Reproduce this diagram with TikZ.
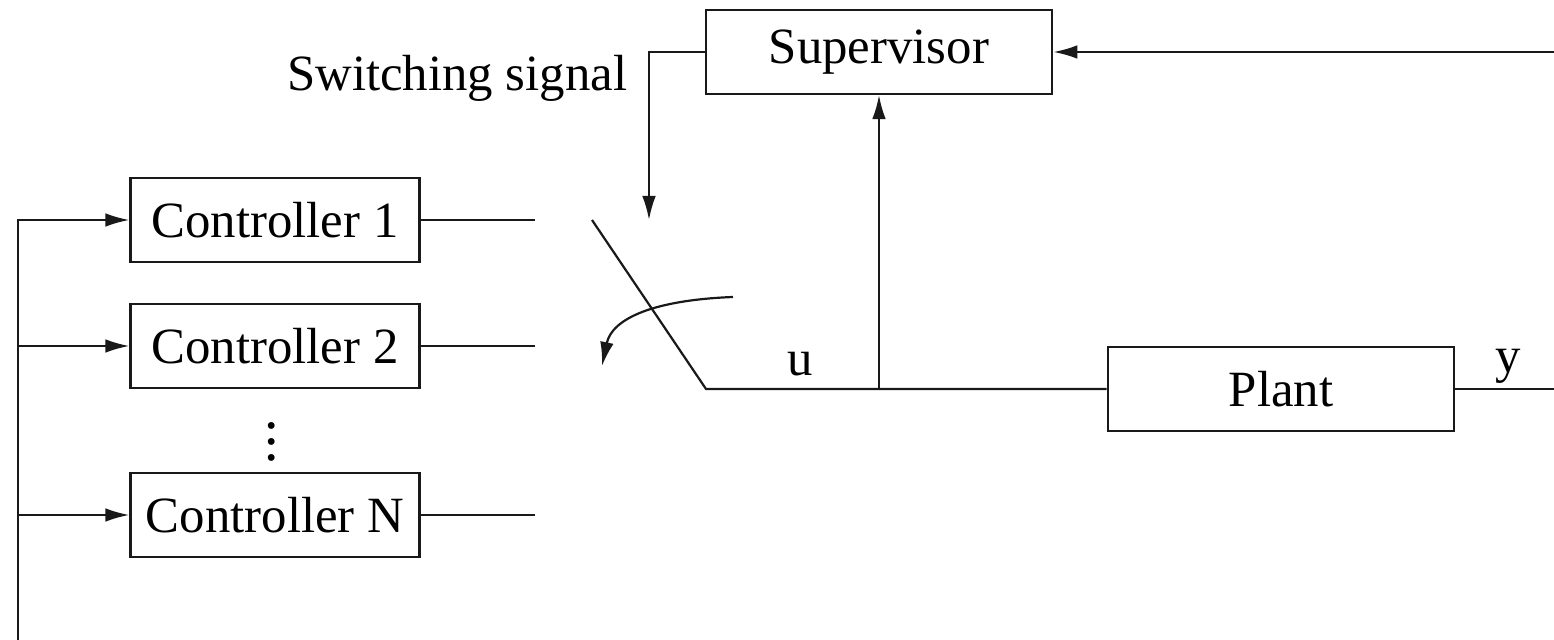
\documentclass[tikz,border=0pt]{standalone}
\usepackage{fontspec}
\setmainfont{Liberation Serif}
\usetikzlibrary{arrows.meta,positioning}
\definecolor{linegray}{RGB}{25,25,25}
\tikzset{
  font=\fontsize{12.7}{15}\selectfont,
  >={Latex[length=6pt,width=3.4pt]},
  block/.style={
    draw=linegray,
    line width=0.55pt,
    minimum height=21pt,
    inner sep=0pt
  },
  ctrl/.style={block,minimum width=72.25pt},
  wide/.style={block,minimum width=86.6pt},
  wire/.style={draw=linegray,line width=0.55pt},
  arrow/.style={wire,->},
  sig/.style={inner sep=1pt}
}
\begin{document}
\begin{tikzpicture}[x=0.25pt,y=-0.25pt]

  \useasboundingbox (0,0) rectangle (1554,640);

  \node[wide] at (879,52) (super) {Supervisor};

  \node[ctrl] at (275,220) (ctrl1) {Controller 1};
  \node[ctrl] at (275,346) (ctrl2) {Controller 2};
  \node[ctrl] at (275,515) (ctrlN) {Controller N};
  \node at (272,430) (dots) {\Large$\vdots$};

  \node[wide] at (1281,389) (plant) {Plant};

  \node[sig,anchor=east] at (632,78) (switchlabel) {Switching signal};
  \node[sig] at (800,364) (ulabel) {u};
  \node[sig] at (1508,366) (ylabel) {y};

  % free ends and corners
  \coordinate (busend) at (18,640);
  \coordinate (out1) at (535,220);
  \coordinate (out2) at (535,346);
  \coordinate (outN) at (535,515);
  \coordinate (pole) at (592,220);
  \coordinate (hinge) at (706,389);
  \coordinate (tap) at (879,389);
  \coordinate (swtip) at (649,220);
  \coordinate (yend) at (1554,389);
  \coordinate (fbend) at (1554,52);
  \coordinate (turnstart) at (733,297);
  \coordinate (turnend) at (602,366);

  \draw[arrow] (busend) |- (ctrl1.west);
  \draw[arrow] (busend |- ctrl2.west) -- (ctrl2.west);
  \draw[arrow] (busend |- ctrlN.west) -- (ctrlN.west);

  \draw[wire] (ctrl1.east) -- (out1);
  \draw[wire] (ctrl2.east) -- (out2);
  \draw[wire] (ctrlN.east) -- (outN);

  \draw[wire] (pole) -- (hinge) -- (plant.west);
  \draw[arrow] (tap) -- (super.south);
  \draw[wire] (plant.east) -- (yend);
  \draw[arrow] (fbend) -- (super.east);
  \draw[arrow] (super.west) -| (swtip);
  \draw[arrow] (turnstart) .. controls (655,300) and (612,318) .. (turnend);

\end{tikzpicture}
\end{document}
